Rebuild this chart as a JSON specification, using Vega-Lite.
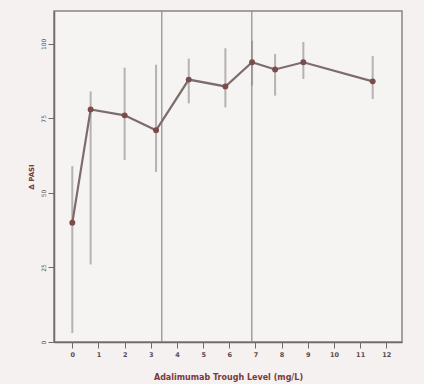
{
  "$schema": "https://vega.github.io/schema/vega-lite/v6.json",
  "autosize": "none",
  "width": 348,
  "height": 331,
  "padding": {"left": 54, "top": 11, "right": 22, "bottom": 42},
  "background": "#f5f1f1",
  "config": {
    "view": {"stroke": "#8a8585", "strokeWidth": 1.5, "fill": "#f6f3f3"},
    "axis": {"grid": false, "domainColor": "#6f6a6a", "tickColor": "#6f6a6a", "labelColor": "#5a4c4c", "titleColor": "#7a3a3a", "labelFont": "DejaVu Sans", "titleFont": "DejaVu Sans", "domainWidth": 1.5}
  },
  "datasets": {
    "pts": [
      {"level": 0, "dpasi": 40, "lo": 3, "hi": 59},
      {"level": 0.7, "dpasi": 78, "lo": 26, "hi": 84},
      {"level": 2, "dpasi": 76, "lo": 61, "hi": 92},
      {"level": 3.2, "dpasi": 71, "lo": 57, "hi": 93},
      {"level": 4.45, "dpasi": 88, "lo": 80, "hi": 95},
      {"level": 5.85, "dpasi": 85.7, "lo": 78.7, "hi": 98.5},
      {"level": 6.87, "dpasi": 93.8, "lo": 86, "hi": 101},
      {"level": 7.75, "dpasi": 91.4, "lo": 82.6, "hi": 96.6},
      {"level": 8.83, "dpasi": 93.8, "lo": 88.2, "hi": 100.6},
      {"level": 11.48, "dpasi": 87.4, "lo": 81.5, "hi": 95.9}
    ],
    "refs": [{"level": 3.42}, {"level": 6.86}]
  },
  "layer": [
    {
      "data": {"name": "pts"},
      "mark": {"type": "rule", "color": "#b7b2b2", "strokeWidth": 2},
      "encoding": {
        "x": {
          "field": "level", "type": "quantitative",
          "scale": {"domain": [-0.7, 12.6], "nice": false, "zero": false},
          "axis": {"values": [0,1,2,3,4,5,6,7,8,9,10,11,12], "tickCount": 13, "labelOverlap": false, "labelFontSize": 6.5, "labelFontWeight": "bold", "tickSize": 6, "labelPadding": 3, "title": "Adalimumab Trough Level (mg/L)", "titleFontSize": 8, "titlePadding": 16, "labelFlush": false}
        },
        "y": {
          "field": "lo", "type": "quantitative",
          "scale": {"domain": [0, 111], "nice": false},
          "axis": {"values": [0, 25, 50, 75, 100], "labelOverlap": false, "labelAngle": -90, "labelAlign": "center", "labelBaseline": "bottom", "labelFontSize": 6, "tickSize": 6, "labelPadding": 2, "title": "Δ PASI", "titleFontSize": 7, "titlePadding": 6}
        },
        "y2": {"field": "hi"}
      }
    },
    {
      "data": {"name": "refs"},
      "mark": {"type": "rule", "color": "#8f8a8a", "strokeWidth": 1.2},
      "encoding": {
        "x": {"field": "level", "type": "quantitative"}
      }
    },
    {
      "data": {"name": "pts"},
      "mark": {"type": "line", "color": "#7d6c6c", "strokeWidth": 2.2, "point": {"filled": true, "size": 35, "color": "#7a4c4c"}},
      "encoding": {
        "x": {"field": "level", "type": "quantitative"},
        "y": {"field": "dpasi", "type": "quantitative"}
      }
    }
  ]
}
